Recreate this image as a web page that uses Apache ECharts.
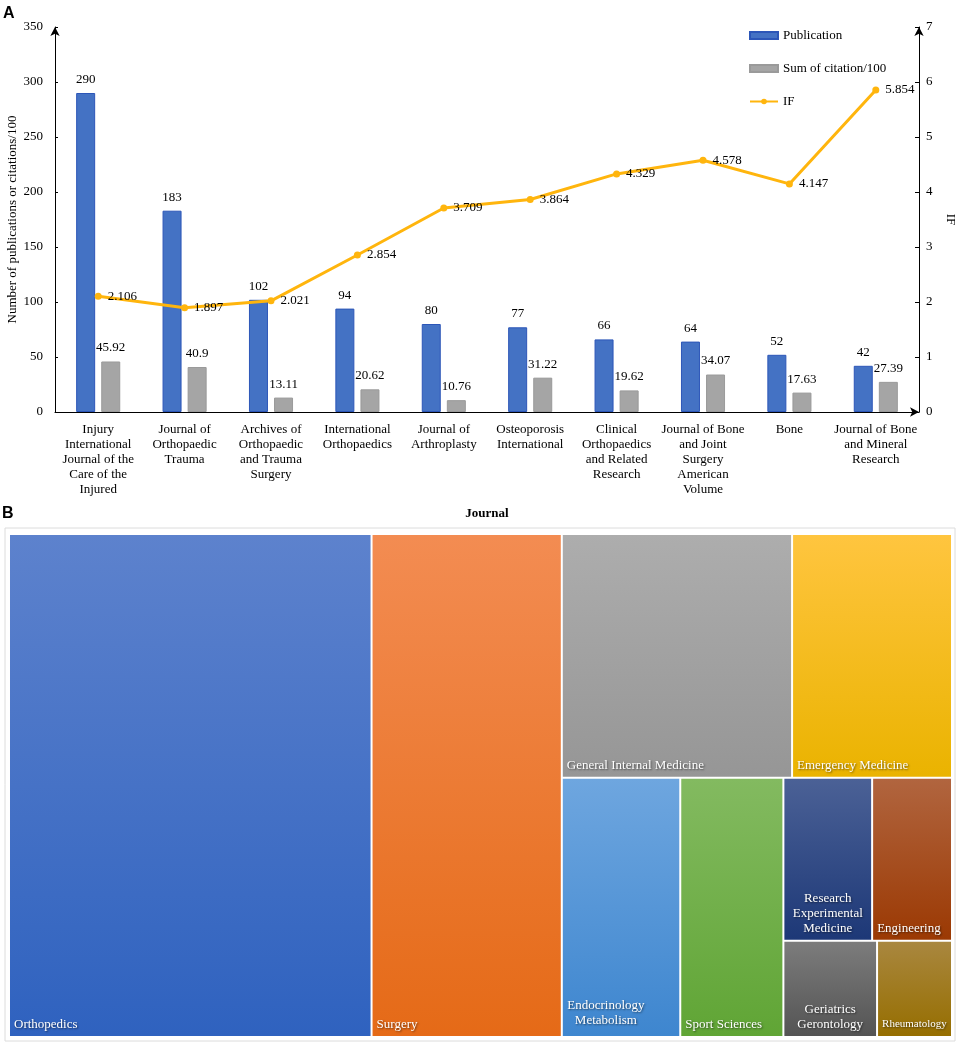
<!DOCTYPE html>
<html>
<head>
<meta charset="utf-8">
<title>Journals and research fields</title>
<script src="https://cdn.jsdelivr.net/npm/echarts@6/dist/echarts.min.js"></script>
<style>
  html, body { margin: 0; padding: 0; background: #fff; }
  #chart { width: 961px; height: 1045px; }
</style>
</head>
<body>
<div id="chart"></div>
<script>
// 저널별 데이터 (A)
const journals = [
    'Injury\nInternational\nJournal of the\nCare of the\nInjured',
    'Journal of\nOrthopaedic\nTrauma',
    'Archives of\nOrthopaedic\nand Trauma\nSurgery',
    'International\nOrthopaedics',
    'Journal of\nArthroplasty',
    'Osteoporosis\nInternational',
    'Clinical\nOrthopaedics\nand Related\nResearch',
    'Journal of Bone\nand Joint\nSurgery\nAmerican\nVolume',
    'Bone',
    'Journal of Bone\nand Mineral\nResearch'
];
const publications = [290, 183, 102, 94, 80, 77, 66, 64, 52, 42];
const citations = [45.92, 40.9, 13.11, 20.62, 10.76, 31.22, 19.62, 34.07, 17.63, 27.39];
const impactFactors = [2.106, 1.897, 2.021, 2.854, 3.709, 3.864, 4.329, 4.578, 4.147, 5.854];
const leftTicks = [0, 350, 50];
const rightTicks = [0, 7, 1];

// 연구 분야 데이터 (B)
const fieldNames = [
    'Orthopedics', 'Surgery', 'General Internal Medicine', 'Emergency Medicine',
    'Endocrinology\nMetabolism', 'Sport Sciences', 'Research\nExperimental\nMedicine',
    'Engineering', 'Geriatrics\nGerontology', 'Rheumatology'
];
const fieldCounts = [1010, 530, 311, 216, 170, 148, 80, 72, 50, 40];
// 트리맵 배치 순서 (인덱스 그룹)
const fieldLayout = [0, 1, [[2, 3], [4, 5, [[6, 7], [8, 9]]]]];
const fieldColors = [
    ['#5d82cd', '#2f62bf'],
    ['#f38c52', '#e56a17'],
    ['#adadad', '#969696'],
    ['#ffc53f', '#eab300'],
    ['#6ea6df', '#3e86cf'],
    ['#83ba60', '#60a535'],
    ['#4b6196', '#1d3877'],
    ['#b1653f', '#9b3903'],
    ['#7c7c7c', '#545454'],
    ['#a9873f', '#966e00']
];

const serif = 'Liberation Serif';

function labelFor(i) {
    const base = {
        show: true,
        position: 'insideBottomLeft',
        distance: 4,
        padding: 0,
        color: '#fff',
        fontFamily: serif,
        fontSize: 13,
        lineHeight: 15,
        textShadowColor: 'rgba(0,0,0,0.55)',
        textShadowBlur: 2,
        textShadowOffsetX: 1,
        textShadowOffsetY: 1
    };
    if (i === 6 || i === 8) {
        base.position = 'insideBottom';
        base.align = 'center';
    }
    if (i === 4) {
        base.position = ['37%', '97%'];
        base.align = 'center';
        base.verticalAlign = 'bottom';
    }
    if (i === 9) {
        base.fontSize = 11;
    }
    return base;
}

function buildNode(item) {
    if (typeof item === 'number') {
        return {
            name: fieldNames[item],
            value: fieldCounts[item],
            itemStyle: {
                color: new echarts.graphic.LinearGradient(0, 0, 0, 1, [
                    { offset: 0, color: fieldColors[item][0] },
                    { offset: 1, color: fieldColors[item][1] }
                ]),
                borderWidth: 1,
                borderColor: 'rgba(255,255,255,0.55)'
            },
            label: labelFor(item)
        };
    }
    const children = item.map(buildNode);
    return {
        name: '',
        value: children.reduce((s, c) => s + c.value, 0),
        itemStyle: { borderWidth: 0, gapWidth: 0, borderColor: 'rgba(255,255,255,0.6)' },
        children: children
    };
}
const treeData = fieldLayout.map(buildNode);

document.addEventListener('DOMContentLoaded', function() {
    const myChart = echarts.init(document.getElementById('chart'));
    const option = {
        animation: false,
        textStyle: { fontFamily: serif, color: '#000' },
        graphic: [
            { type: 'text', left: 3, top: 6, style: { text: 'A', font: 'bold 16px "Liberation Sans"', fill: '#000' } },
            { type: 'text', left: 2, top: 506, style: { text: 'B', font: 'bold 16px "Liberation Sans"', fill: '#000' } },
            { type: 'rect', z: -1, shape: { x: 5, y: 528, width: 950, height: 513 },
              style: { fill: '#fff', stroke: '#dcdcdc', lineWidth: 1 } }
        ],
        legend: {
            orient: 'vertical',
            left: 744,
            top: 24,
            itemWidth: 28,
            itemHeight: 7,
            itemGap: 20,
            textStyle: { fontFamily: serif, fontSize: 13, color: '#000' },
            data: [
                { name: 'Publication', icon: 'rect' },
                { name: 'Sum of citation/100', icon: 'rect' },
                { name: 'IF' }
            ]
        },
        grid: { left: 55, right: 42, top: 27, bottom: 633, outerBoundsMode: 'none', containLabel: false },
        xAxis: {
            type: 'category',
            data: journals,
            name: 'Journal',
            nameLocation: 'middle',
            nameGap: 95,
            nameMoveOverlap: false,
            nameTextStyle: { fontFamily: serif, fontSize: 13, fontWeight: 'bold', color: '#000' },
            axisLine: { lineStyle: { color: '#000', width: 1 }, symbol: ['none', 'arrow'], symbolSize: [7, 9] },
            axisTick: { show: false },
            axisLabel: { interval: 0, margin: 10, color: '#000', fontFamily: serif, fontSize: 13, lineHeight: 15 }
        },
        yAxis: [
            {
                type: 'value',
                min: leftTicks[0],
                max: leftTicks[1],
                interval: leftTicks[2],
                name: 'Number of publications or citations/100',
                nameLocation: 'middle',
                nameGap: 36,
                nameMoveOverlap: false,
                nameTextStyle: { fontFamily: serif, fontSize: 13, color: '#000' },
                axisLine: { show: true, lineStyle: { color: '#000', width: 1 }, symbol: ['none', 'arrow'], symbolSize: [7, 9] },
                axisTick: { show: true, inside: true, length: 3, lineStyle: { color: '#000' } },
                axisLabel: { margin: 12, color: '#000', fontFamily: serif, fontSize: 13 },
                splitLine: { show: false }
            },
            {
                type: 'value',
                position: 'right',
                min: rightTicks[0],
                max: rightTicks[1],
                interval: rightTicks[2],
                name: 'IF',
                nameLocation: 'middle',
                nameGap: 25,
                nameRotate: -90,
                nameMoveOverlap: false,
                nameTextStyle: { fontFamily: serif, fontSize: 13, color: '#000' },
                axisLine: { show: true, lineStyle: { color: '#000', width: 1 }, symbol: ['none', 'arrow'], symbolSize: [7, 9] },
                axisTick: { show: true, inside: true, length: 4, lineStyle: { color: '#000' } },
                axisLabel: { margin: 7, color: '#000', fontFamily: serif, fontSize: 13 },
                splitLine: { show: false }
            }
        ],
        series: [
            {
                name: 'Publication',
                type: 'bar',
                data: publications,
                barWidth: 19,
                barGap: '32%',
                itemStyle: { color: '#4472c4', borderColor: '#2c56b8', borderWidth: 1 },
                label: { show: true, position: 'top', distance: 7, color: '#000', fontFamily: serif, fontSize: 13 }
            },
            {
                name: 'Sum of citation/100',
                type: 'bar',
                data: citations,
                barWidth: 19,
                itemStyle: { color: '#a5a5a5', borderColor: '#9a9a9a', borderWidth: 1 },
                label: { show: true, position: 'top', distance: 7, color: '#000', fontFamily: serif, fontSize: 13 }
            },
            {
                name: 'IF',
                type: 'line',
                yAxisIndex: 1,
                data: impactFactors,
                symbol: 'circle',
                symbolSize: 7,
                lineStyle: { width: 3, color: '#ffb50d' },
                itemStyle: { color: '#ffb50d' },
                label: { show: true, position: 'right', distance: 6, color: '#000', fontFamily: serif, fontSize: 13 },
                z: 5
            },
            {
                type: 'treemap',
                left: 9,
                top: 534,
                width: 943,
                height: 503,
                roam: false,
                nodeClick: false,
                sort: false,
                squareRatio: 0.6,
                visibleMin: 0,
                breadcrumb: { show: false },
                upperLabel: { show: false },
                itemStyle: { borderWidth: 0, gapWidth: 0, borderColor: 'rgba(255,255,255,0.6)' },
                label: { show: true, padding: 0 },
                data: treeData
            }
        ]
    };
    myChart.setOption(option);
    window.addEventListener('resize', function() {
        myChart.resize();
    });
});
</script>
</body>
</html>
